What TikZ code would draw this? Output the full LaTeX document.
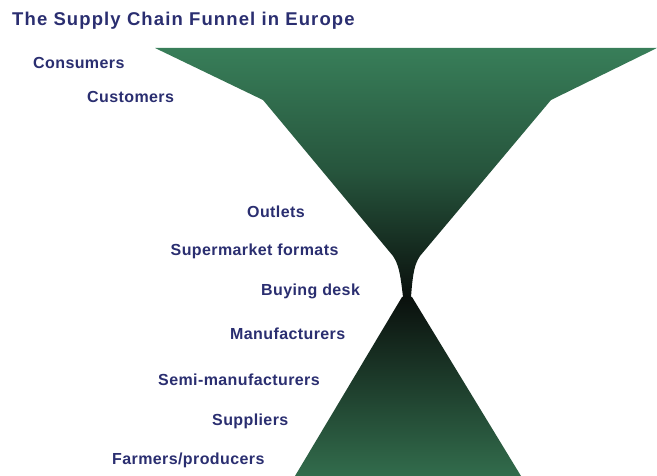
\documentclass[tikz,border=0pt]{standalone}
\usepackage{fontspec}
\setmainfont{Liberation Sans}
\newfontfamily\titlefont[LetterSpace=6]{Liberation Sans}
\newfontfamily\labelfont[LetterSpace=2.5]{Liberation Sans}
\definecolor{txtblue}{RGB}{42,46,112}
\definecolor{fgreen}{RGB}{56,126,89}
\definecolor{fmid}{RGB}{38,84,60}
\definecolor{fdark}{RGB}{10,16,13}
\definecolor{bgreen}{RGB}{50,108,76}
\tikzset{
  lbl/.style={anchor=base west, inner sep=0pt, text=txtblue, font=\fontsize{16}{18}\selectfont\labelfont\bfseries},
  ttl/.style={anchor=base west, inner sep=0pt, text=txtblue, font=\fontsize{18.5}{22}\selectfont\titlefont\bfseries}
}
\begin{document}
\begin{tikzpicture}[x=1pt,y=-1pt]
\useasboundingbox (0,0) rectangle (657,476);
% upper funnel
\shade[top color=fgreen, bottom color=fdark, middle color=fmid]
  (155,48) -- (263,100) -- (393,256) .. controls (398,264) and (400,270) .. (403,297)
  -- (411,297) .. controls (413,270) and (415,264) .. (420,256)
  -- (551,100) -- (657,48) -- cycle;
% lower funnel
\shade[top color=fdark, bottom color=bgreen]
  (402,297) -- (295,476) -- (521,476) -- (412,297) -- cycle;
\node[ttl] (title) at (12,26) {The Supply Chain Funnel in Europe};
\node[lbl] (consumers) at (33,69) {Consumers};
\node[lbl] (customers) at (87,102.5) {Customers};
\node[lbl] (outlets) at (247,218) {Outlets};
\node[lbl] (formats) at (170.5,255.5) {Supermarket formats};
\node[lbl] (desk) at (261,296) {Buying desk};
\node[lbl] (manuf) at (230,339) {Manufacturers};
\node[lbl] (semi) at (158,385) {Semi-manufacturers};
\node[lbl] (suppliers) at (212,425) {Suppliers};
\node[lbl] (farmers) at (112,464) {Farmers/producers};
\end{tikzpicture}
\end{document}
